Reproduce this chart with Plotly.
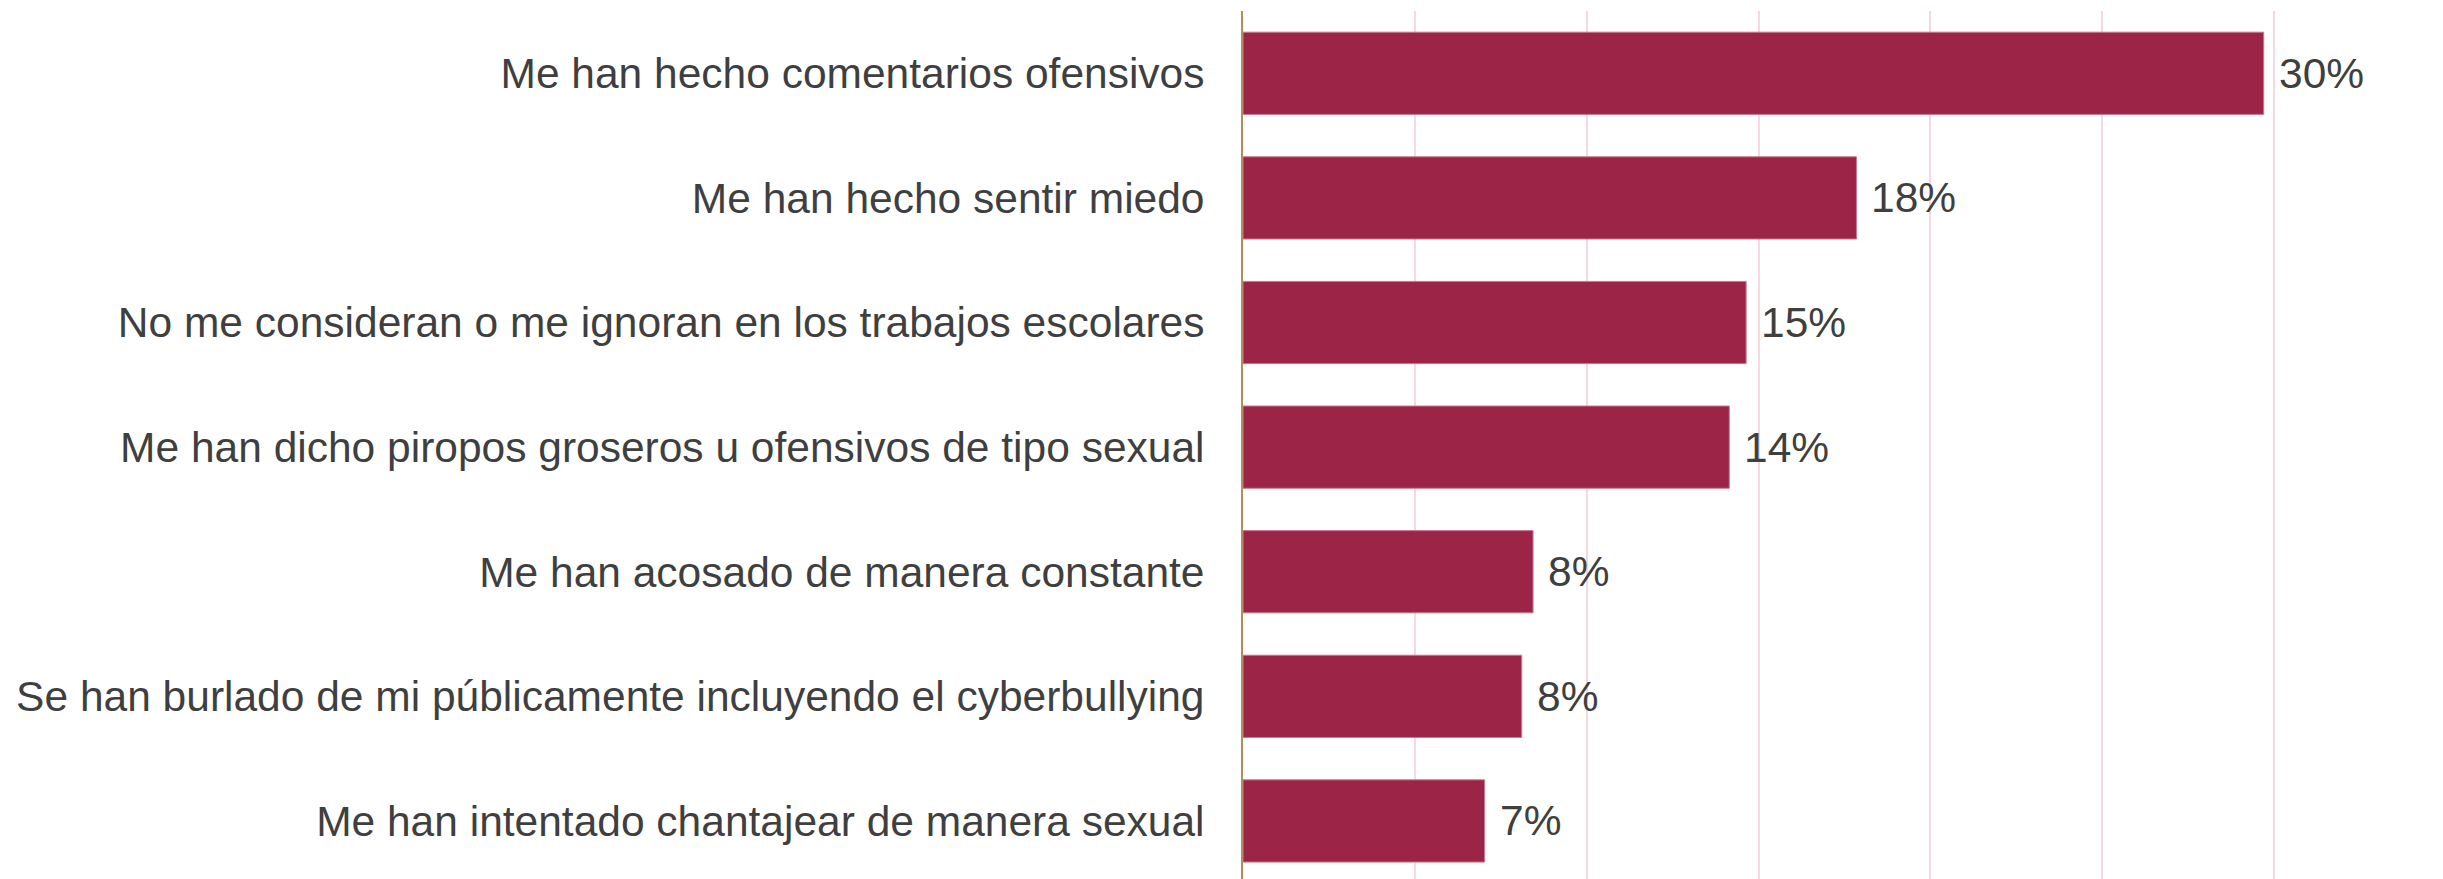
import plotly.graph_objects as go

categories = [
    "Me han hecho comentarios ofensivos",
    "Me han hecho sentir miedo",
    "No me consideran o me ignoran en los trabajos escolares",
    "Me han dicho piropos groseros u ofensivos de tipo sexual",
    "Me han acosado de manera constante",
    "Se han burlado de mi públicamente incluyendo el cyberbullying",
    "Me han intentado chantajear de manera sexual",
]
values = [29.7, 17.85, 14.64, 14.15, 8.44, 8.11, 7.03]
value_labels = ["30%", "18%", "15%", "14%", "8%", "8%", "7%"]
grid_ticks = [5, 10, 15, 20, 25, 30]

BAR = "#9c2447"
TEXT = "#3f3f3f"
FONT = "Liberation Sans, Arial, sans-serif"
FSIZE = 42.5

fig = go.Figure(
    go.Bar(
        x=values,
        y=categories,
        orientation="h",
        marker=dict(color=BAR, line=dict(color="#c9788f", width=1)),
    )
)

for cat, val, lab in zip(categories, values, value_labels):
    fig.add_annotation(
        x=val, y=cat, text=lab, showarrow=False,
        xanchor="left", yanchor="middle", xshift=13,
        font=dict(family=FONT, size=FSIZE, color=TEXT),
    )

fig.update_layout(
    width=2443,
    height=879,
    margin=dict(l=1235, r=0, t=3, b=0),
    paper_bgcolor="white",
    plot_bgcolor="rgba(0,0,0,0)",
    bargap=0.34,
    showlegend=False,
    font=dict(family=FONT, color=TEXT),
)
fig.update_xaxes(
    range=[0, 35.15],
    tickvals=grid_ticks,
    showticklabels=False,
    showgrid=True,
    gridcolor="#f6d8e2",
    gridwidth=1.5,
    zeroline=False,
    showline=False,
    automargin=False,
)
fig.update_yaxes(
    categoryorder="array",
    categoryarray=categories,
    range=[6.53, -0.5],
    showline=True,
    linecolor="#b38e5d",
    linewidth=2,
    showgrid=False,
    ticks="",
    ticklabelstandoff=28,
    automargin=False,
    tickfont=dict(family=FONT, size=FSIZE, color=TEXT),
)

fig.write_html("out.html")
